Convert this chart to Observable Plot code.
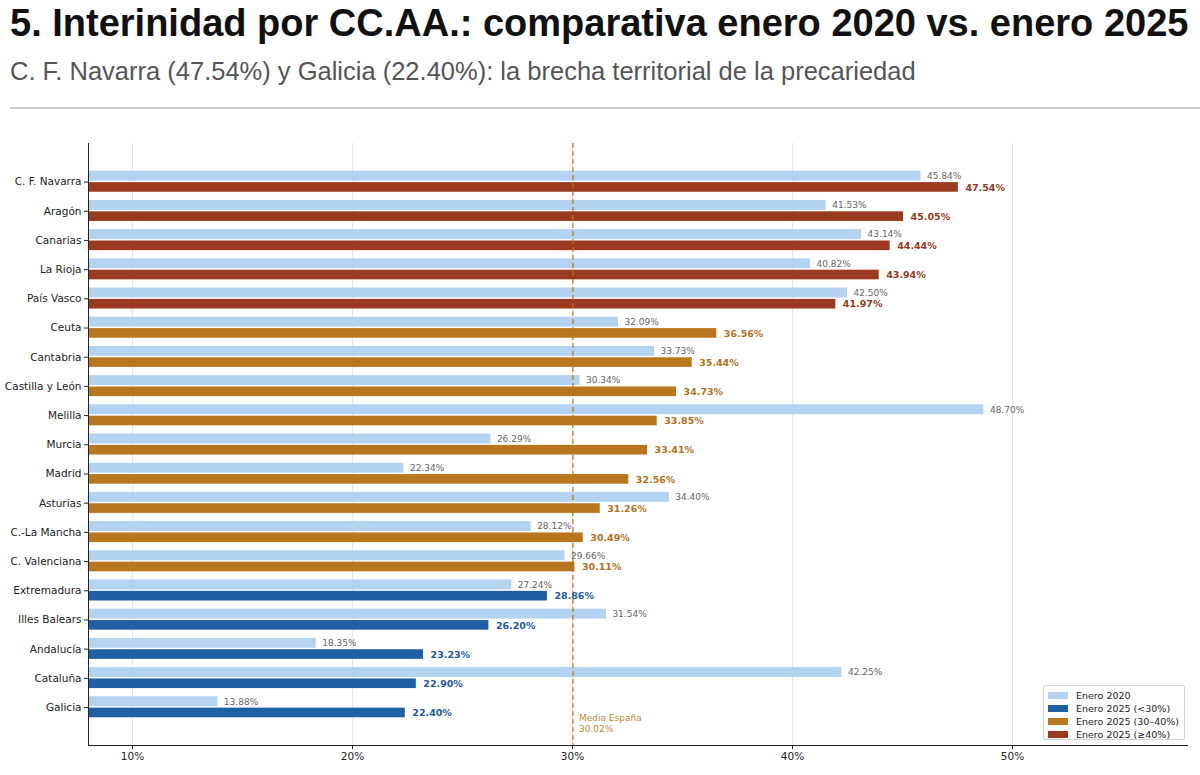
<!DOCTYPE html>
<html>
<head>
<meta charset="utf-8">
<script src="https://cdn.jsdelivr.net/npm/d3@7"></script>
<script src="https://cdn.jsdelivr.net/npm/@observablehq/plot@0.6"></script>
<style>
  html, body { margin: 0; padding: 0; background: #fff; }
  body { width: 1200px; height: 775px; position: relative; overflow: hidden; }
  #title { position: absolute; left: 10px; top: 0px; font-family: "Liberation Sans", Arial, sans-serif; font-weight: bold; font-size: 38px; color: #111; white-space: nowrap; line-height: 46px; }
  #subtitle { position: absolute; left: 10px; top: 56px; font-family: "Liberation Sans", Arial, sans-serif; font-size: 25.5px; color: #555; white-space: nowrap; line-height: 30px; }
  #rule { position: absolute; left: 10px; right: 0; top: 107px; height: 2px; background: #cfcfcf; }
  #chart { position: absolute; left: 0; top: 115px; }
  #legend { position: absolute; left: 1043px; top: 685px; width: 142px; height: 55px; border: 1px solid #d5d5d5; border-radius: 2px; background: rgba(255,255,255,0.9); font-family: "DejaVu Sans", sans-serif; font-size: 9.5px; color: #222; box-sizing: border-box; padding: 3px 0 0 4px; }
  #legend .item { display: flex; align-items: center; height: 13px; }
  #legend .sw { width: 20px; height: 7px; margin-right: 8px; }
</style>
</head>
<body>
<div id="title">5. Interinidad por CC.AA.: comparativa enero 2020 vs. enero 2025</div>
<div id="subtitle">C. F. Navarra (47.54%) y Galicia (22.40%): la brecha territorial de la precariedad</div>
<div id="rule"></div>
<div id="chart"></div>
<div id="legend"></div>
<script>
const regions = ["C. F. Navarra", "Aragón", "Canarias", "La Rioja", "País Vasco", "Ceuta", "Cantabria", "Castilla y León", "Melilla", "Murcia", "Madrid", "Asturias", "C.-La Mancha", "C. Valenciana", "Extremadura", "Illes Balears", "Andalucía", "Cataluña", "Galicia"];
const values2020 = [45.84, 41.53, 43.14, 40.82, 42.50, 32.09, 33.73, 30.34, 48.70, 26.29, 22.34, 34.40, 28.12, 29.66, 27.24, 31.54, 18.35, 42.25, 13.88];
const values2025 = [47.54, 45.05, 44.44, 43.94, 41.97, 36.56, 35.44, 34.73, 33.85, 33.41, 32.56, 31.26, 30.49, 30.11, 28.86, 26.20, 23.23, 22.90, 22.40];
const mediaEspana = 30.02;
const xTicks = [10, 20, 30, 40, 50];
const legendLabels = ["Enero 2020", "Enero 2025 (<30%)", "Enero 2025 (30–40%)", "Enero 2025 (≥40%)"];
const legendColors = ["#b3d3f0", "#1f5fa3", "#b8761f", "#9a3a20"];

const colorLight = legendColors[0];
const colorFor = v => v < 30 ? legendColors[1] : v < 40 ? legendColors[2] : legendColors[3];
const textColorFor = v => v < 30 ? "#1f5a96" : v < 40 ? "#b0721e" : "#923a22";

const data = regions.map((r, i) => ({region: r, i, a: values2020[i], b: values2025[i]}));
const xDomain = [8, 58];
const yDomain = [-1.32, 19.3];

const chart = Plot.plot({
  width: 1200,
  height: 660,
  marginTop: 28,
  marginBottom: 30,
  marginLeft: 88,
  marginRight: 12,
  style: {fontFamily: "DejaVu Sans, sans-serif", fontSize: "10.5px", color: "#222", background: "white"},
  x: {domain: xDomain},
  y: {domain: yDomain, reverse: true},
  marks: [
    Plot.gridX(xTicks, {stroke: "#e6e6e6", strokeOpacity: 1, strokeWidth: 1}),
    Plot.rect(data, {x1: 0, x2: "a", y1: d => d.i - 0.37, y2: d => d.i - 0.03, fill: colorLight, clip: true}),
    Plot.rect(data, {x1: 0, x2: "b", y1: d => d.i + 0.02, y2: d => d.i + 0.35, fill: d => colorFor(d.b), clip: true}),
    Plot.ruleX([mediaEspana], {stroke: "#b8761f", strokeWidth: 1.4, strokeDasharray: "5,3", strokeOpacity: 0.85}),
    Plot.text([mediaEspana], {x: d => d, frameAnchor: "bottom", dx: 6, dy: -14, text: d => "Media España\n" + d.toFixed(2) + "%", textAnchor: "start", lineAnchor: "bottom", fill: "#c0873a", fontSize: 9, lineHeight: 1.15}),
    Plot.text(data, {x: "a", y: d => d.i - 0.2, text: d => d.a.toFixed(2) + "%", dx: 6, textAnchor: "start", fill: "#666", fontSize: 9}),
    Plot.text(data, {x: "b", y: d => d.i + 0.19, text: d => d.b.toFixed(2) + "%", dx: 7, textAnchor: "start", fill: d => textColorFor(d.b), fontSize: 9.5, fontWeight: "bold"}),
    Plot.ruleX([xDomain[0]], {stroke: "#222", strokeWidth: 1}),
    Plot.ruleY([yDomain[1]], {stroke: "#222", strokeWidth: 1}),
    Plot.axisY({ticks: d3.range(regions.length), tickFormat: i => regions[i], tickSize: 4, tickPadding: 3, fontSize: 10.5, label: null, stroke: "#222"}),
    Plot.axisX({ticks: xTicks, tickFormat: d => d + "%", tickSize: 4, tickPadding: 3, fontSize: 10.5, label: null, stroke: "#222"})
  ]
});
document.getElementById("chart").appendChild(chart);

const legend = document.getElementById("legend");
legendLabels.forEach((lab, k) => {
  const item = document.createElement("div");
  item.className = "item";
  const sw = document.createElement("span");
  sw.className = "sw";
  sw.style.background = legendColors[k];
  const t = document.createElement("span");
  t.textContent = lab;
  item.appendChild(sw);
  item.appendChild(t);
  legend.appendChild(item);
});
</script>
</body>
</html>
